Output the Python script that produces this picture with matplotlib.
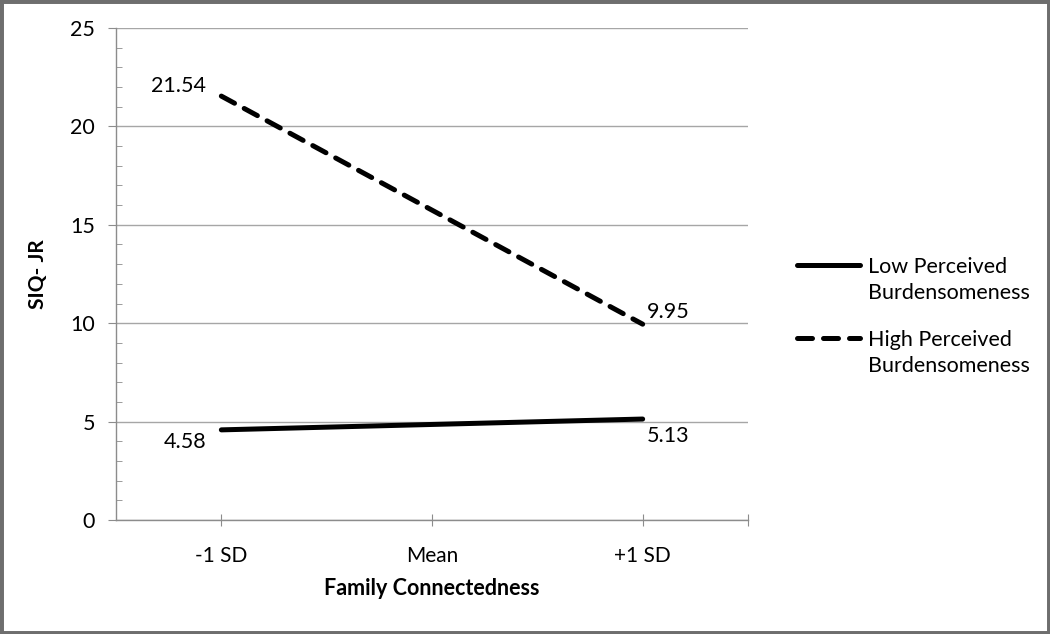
import matplotlib
matplotlib.use("Agg")
import matplotlib.pyplot as plt
from matplotlib.patches import Rectangle
from matplotlib.lines import Line2D
from matplotlib.ticker import MultipleLocator

categories = ["-1 SD", "Mean", "+1 SD"]
low_pb = [4.58, None, 5.13]
high_pb = [21.54, None, 9.95]
series_names = ["Low Perceived\nBurdensomeness", "High Perceived\nBurdensomeness"]
y_ticks = [0, 5, 10, 15, 20, 25]

plt.rcParams['font.family'] = ['Lato', 'DejaVu Sans']

fig = plt.figure(figsize=(10.5, 6.34), dpi=100)
ax = fig.add_axes([116/1050, 1-520/634, (748-116)/1050, (520-28)/634])

xs = [0, 2]
lv = [low_pb[0], low_pb[2]]
hv = [high_pb[0], high_pb[2]]
lw = 3.6
dash = (3.0, 2.2)
ax.plot(xs, lv, color='black', lw=lw, solid_capstyle='round', zorder=3)
ax.plot(xs, hv, color='black', lw=lw, dashes=dash, dash_capstyle='round', zorder=3)

fs = 15.5
ax.annotate(f"{high_pb[0]:.2f}", (0, high_pb[0]), xytext=(-11, 7), textcoords='offset points', ha='right', va='center', fontsize=fs)
ax.annotate(f"{low_pb[0]:.2f}", (0, low_pb[0]), xytext=(-11, -9), textcoords='offset points', ha='right', va='center', fontsize=fs)
ax.annotate(f"{high_pb[2]:.2f}", (2, high_pb[2]), xytext=(3, 9), textcoords='offset points', ha='left', va='center', fontsize=fs)
ax.annotate(f"{low_pb[2]:.2f}", (2, low_pb[2]), xytext=(3, -12), textcoords='offset points', ha='left', va='center', fontsize=fs)

ax.set_xlim(-0.5, 2.5)
ax.set_ylim(0, 25)
ax.set_yticks(y_ticks)
ax.yaxis.set_minor_locator(MultipleLocator(1))
ax.set_xticks([0, 1, 2, 2.5])
ax.set_xticklabels(categories + [""])
ax.grid(axis='y', color='#a6a6a6', lw=1.0, zorder=0)
ax.set_axisbelow(True)

for s in ['top', 'right']:
    ax.spines[s].set_visible(False)
for s in ['left', 'bottom']:
    ax.spines[s].set_color('#8c8c8c')
    ax.spines[s].set_linewidth(1.0)

ax.tick_params(axis='y', which='major', direction='out', length=6, color='#8c8c8c', labelsize=15.5, pad=9)
ax.tick_params(axis='y', which='minor', direction='in', length=4, color='#8c8c8c')
ax.tick_params(axis='x', which='major', direction='inout', length=9, color='#8c8c8c', labelsize=15, pad=14)

ax.set_ylabel("SIQ- JR", fontsize=15, fontweight='bold', labelpad=16)
ax.set_xlabel("Family Connectedness", fontsize=15.5, fontweight='bold', labelpad=9)

# legend (Excel style: handle aligned with first text line)
H = 634.0
W = 1050.0
leg_y = [265, 338]
styles = [dict(solid_capstyle='round'), dict(dashes=dash, dash_capstyle='round')]
for name, y, st in zip(series_names, leg_y, styles):
    fig.add_artist(Line2D([797/W, 860/W], [1-y/H, 1-y/H], color='black', lw=lw,
                          transform=fig.transFigure, **st))
    fig.text(868/W, 1-(y-8)/H, name, ha='left', va='top', fontsize=15.5, linespacing=1.38)

fig.patches.append(Rectangle((0, 0), 1, 1, transform=fig.transFigure, fill=False,
                             edgecolor='#6e6e6e', lw=5, zorder=10))

fig.savefig("out.png", dpi=100)
